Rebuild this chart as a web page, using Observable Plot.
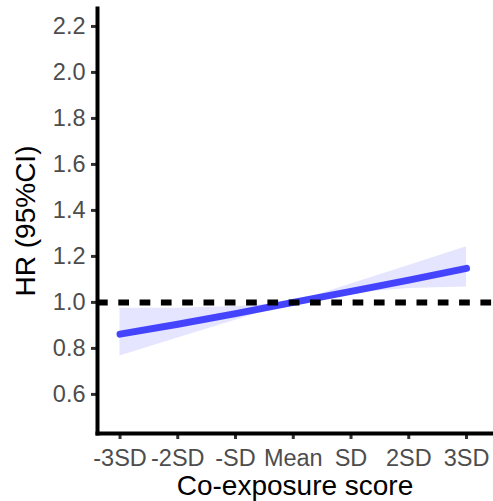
<!DOCTYPE html>
<html>
<head>
<meta charset="utf-8">
<script src="https://cdn.jsdelivr.net/npm/d3@7"></script>
<script src="https://cdn.jsdelivr.net/npm/@observablehq/plot@0.6"></script>
<style>
  html, body { margin: 0; padding: 0; background: #fff; }
</style>
</head>
<body>
<div id="chart"></div>
<script>
// Data
const xPos = [-3, -2, -1, 0, 1, 2, 3];
const xLabels = ["-3SD", "-2SD", "-SD", "Mean", "SD", "2SD", "3SD"];
const hr = [0.862, 0.905, 0.951, 1.0, 1.048, 1.097, 1.148];
const lower = [0.767, 0.845, 0.922, 1.0, 1.04, 1.06, 1.067];
const upper = [0.975, 0.975, 0.982, 1.0, 1.08, 1.16, 1.242];
const yTicks = [0.6, 0.8, 1.0, 1.2, 1.4, 1.6, 1.8, 2.0, 2.2];
const refLine = [1];

const data = xPos.map((x, i) => ({x, hr: hr[i], lo: lower[i], hi: upper[i]}));

const font = "'Liberation Sans', Arial, sans-serif";

const chart = Plot.plot({
  width: 493,
  height: 501,
  marginLeft: 97,
  marginRight: 1,
  marginTop: 8,
  marginBottom: 68,
  style: {fontFamily: font, fontSize: "23.5px", background: "#fff", overflow: "visible"},
  x: {domain: [-3.39, 3.45], axis: null},
  y: {domain: [0.43, 2.278], axis: null},
  marks: [
    Plot.areaY(data, {x: "x", y1: "lo", y2: "hi", fill: "#e5e5ff"}),
    Plot.line(data, {x: "x", y: "hr", stroke: "#4444ff", strokeWidth: 7}),
    Plot.ruleY(refLine, {stroke: "#000", strokeWidth: 6, strokeDasharray: "10.7,10.6"}),
    Plot.axisY({
      ticks: yTicks,
      tickFormat: d => d.toFixed(1),
      tickSize: 6,
      tickPadding: 6,
      stroke: "#333",
      fill: "#4d4d4d",
      strokeWidth: 3,
      label: null
    }),
    Plot.axisX({
      ticks: xPos,
      tickFormat: (d) => xLabels[xPos.indexOf(d)],
      tickSize: 6,
      tickPadding: 10,
      stroke: "#333",
      fill: "#4d4d4d",
      strokeWidth: 3,
      label: null
    }),
    Plot.frame({anchor: "left", stroke: "#000", strokeWidth: 4}),
    Plot.frame({anchor: "bottom", stroke: "#000", strokeWidth: 4}),
    Plot.text(["Co-exposure score"], {frameAnchor: "bottom", dy: 61, fontSize: 28, fill: "#000", fontFamily: font}),
    Plot.text(["HR (95%CI)"], {frameAnchor: "left", textAnchor: "middle", dx: -71, rotate: -90, fontSize: 28, fill: "#000", fontFamily: font})
  ]
});

document.getElementById("chart").appendChild(chart);
</script>
</body>
</html>
